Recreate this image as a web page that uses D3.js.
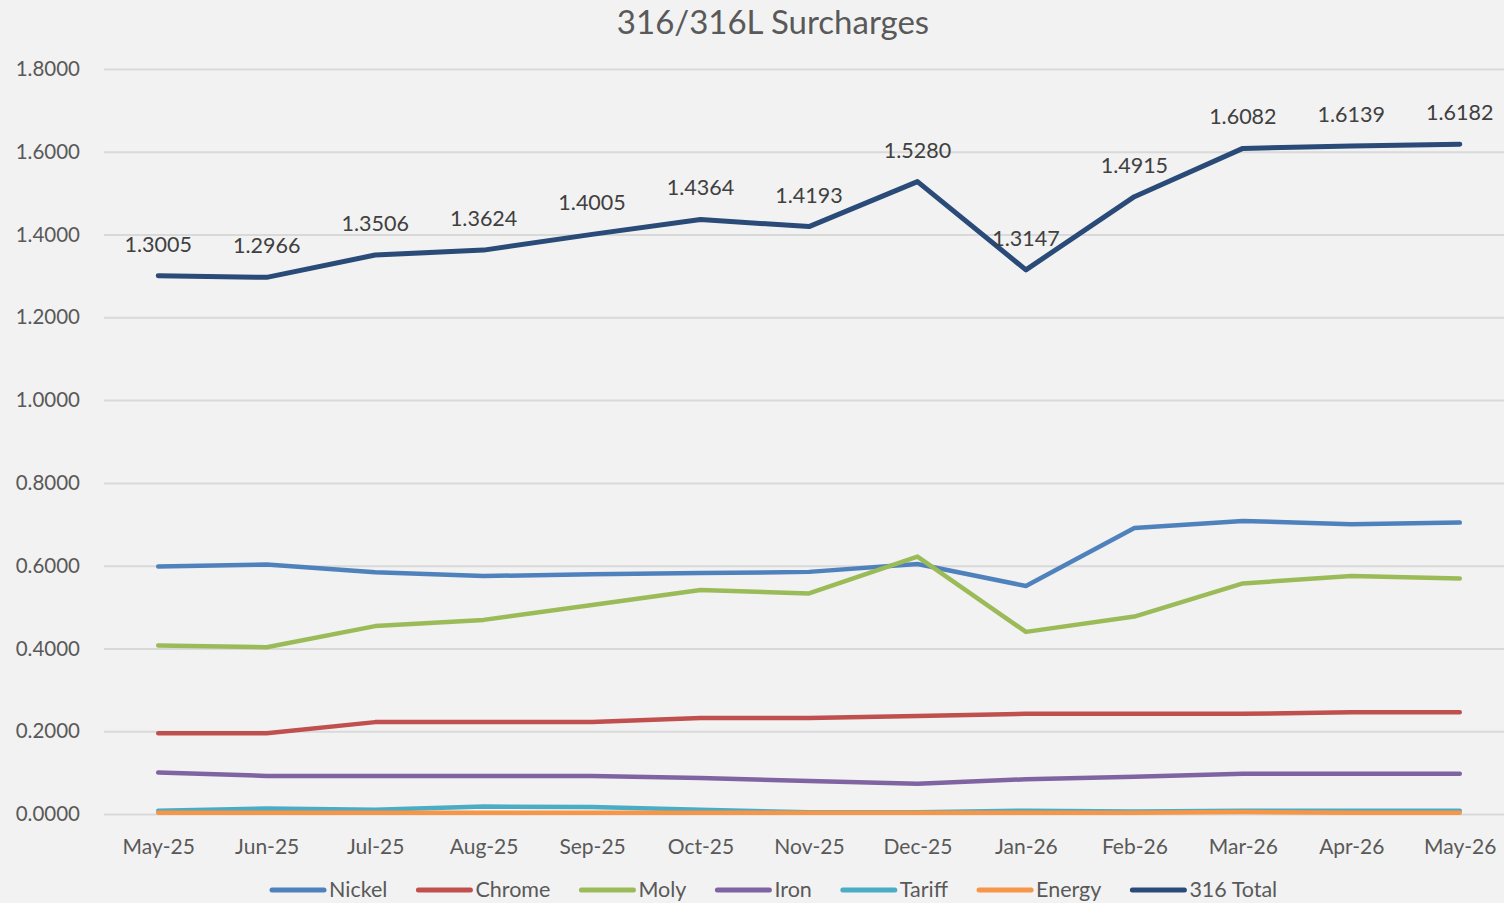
<!DOCTYPE html>
<html>
<head>
<meta charset="utf-8">
<script src="https://cdn.jsdelivr.net/npm/d3@7"></script>
<style>
body { margin: 0; background: #f2f2f2; }
text { font-family: Lato, "Open Sans", sans-serif; }
</style>
</head>
<body>
<div id="chart"></div>
<script>
var months = ["May-25", "Jun-25", "Jul-25", "Aug-25", "Sep-25", "Oct-25", "Nov-25",
              "Dec-25", "Jan-26", "Feb-26", "Mar-26", "Apr-26", "May-26"];

var nickel = [0.598, 0.603, 0.584, 0.575, 0.579, 0.582, 0.585, 0.604, 0.551, 0.691, 0.708, 0.700, 0.704];
var chrome = [0.195, 0.195, 0.222, 0.222, 0.222, 0.232, 0.232, 0.237, 0.242, 0.242, 0.242, 0.246, 0.246];
var moly   = [0.407, 0.403, 0.454, 0.469, 0.505, 0.541, 0.533, 0.622, 0.440, 0.477, 0.557, 0.575, 0.569];
var iron   = [0.100, 0.092, 0.092, 0.092, 0.092, 0.087, 0.080, 0.073, 0.084, 0.090, 0.097, 0.097, 0.097];
var tariff = [0.008, 0.013, 0.010, 0.018, 0.017, 0.010, 0.004, 0.004, 0.008, 0.006, 0.008, 0.008, 0.008];
var energy = [0.003, 0.003, 0.003, 0.003, 0.003, 0.003, 0.003, 0.003, 0.003, 0.003, 0.005, 0.003, 0.003];
var total  = [1.3005, 1.2966, 1.3506, 1.3624, 1.4005, 1.4364, 1.4193, 1.5280, 1.3147, 1.4915, 1.6082, 1.6139, 1.6182];

var yTicks = [0, 0.2, 0.4, 0.6, 0.8, 1.0, 1.2, 1.4, 1.6, 1.8];

var seriesNames = ["Nickel", "Chrome", "Moly", "Iron", "Tariff", "Energy", "316 Total"];
var seriesValues = [nickel, chrome, moly, iron, tariff, energy, total];
var seriesColors = ["#4f81bd", "#c0504d", "#9bbb59", "#8064a2", "#4bacc6", "#f79646", "#2a4a77"];

var svgWidth = 1504;
var svgHeight = 903;

var svg = d3.select("#chart")
  .append("svg")
  .attr("width", svgWidth)
  .attr("height", svgHeight)
  .style("display", "block");

svg.append("rect")
  .attr("width", svgWidth)
  .attr("height", svgHeight)
  .attr("fill", "#f2f2f2");

// scales
var x = d3.scalePoint()
  .domain(months)
  .range([104, 1514])
  .padding(0.5);

var y = d3.scaleLinear()
  .domain([0, 1.8])
  .range([814, 69]);

// title
svg.append("text")
  .attr("x", 773)
  .attr("y", 34)
  .attr("text-anchor", "middle")
  .attr("font-size", 33)
  .attr("fill", "#595959")
  .text("316/316L Surcharges");

// gridlines + y labels
var yAxis = svg.append("g")
  .attr("transform", "translate(104,0)")
  .call(d3.axisLeft(y).tickValues(yTicks).tickSize(-1410).tickPadding(24)
        .tickFormat(d3.format(".4f")));
yAxis.select(".domain").remove();
yAxis.selectAll(".tick line").attr("stroke", "#d9d9d9").attr("stroke-width", 2);
yAxis.selectAll(".tick text")
  .attr("font-size", 20.5)
  .attr("fill", "#595959")
  .attr("font-family", "Lato, 'Open Sans', sans-serif");

// x labels
var xAxis = svg.append("g")
  .attr("transform", "translate(0,814)")
  .call(d3.axisBottom(x).tickSize(0).tickPadding(25));
xAxis.select(".domain").remove();
xAxis.selectAll(".tick text")
  .attr("font-size", 21)
  .attr("fill", "#595959")
  .attr("font-family", "Lato, 'Open Sans', sans-serif");

// lines
var line = d3.line()
  .x(function(d, i) { return x(months[i]); })
  .y(function(d) { return y(d); });

seriesValues.forEach(function(vals, k) {
  svg.append("path")
    .datum(vals)
    .attr("d", line)
    .attr("fill", "none")
    .attr("stroke", seriesColors[k])
    .attr("stroke-width", k == 6 ? 5 : 4.5)
    .attr("stroke-linecap", "round")
    .attr("stroke-linejoin", "round");
});

// data labels for total
svg.selectAll(".lbl")
  .data(total)
  .enter()
  .append("text")
  .attr("class", "lbl")
  .attr("x", function(d, i) { return x(months[i]); })
  .attr("y", function(d) { return y(d) - 24; })
  .attr("text-anchor", "middle")
  .attr("font-size", 21.5)
  .attr("fill", "#404040")
  .text(function(d) { return d3.format(".4f")(d); });

// legend
var legend = svg.append("g");
var lx = 270;
seriesNames.forEach(function(name, k) {
  legend.append("line")
    .attr("x1", lx + 2).attr("x2", lx + 54)
    .attr("y1", 890).attr("y2", 890)
    .attr("stroke", seriesColors[k])
    .attr("stroke-width", 5)
    .attr("stroke-linecap", "round");
  var t = legend.append("text")
    .attr("x", lx + 59)
    .attr("y", 897)
    .attr("font-size", 21.5)
    .attr("fill", "#595959")
    .text(name);
  lx = lx + 59 + t.node().getComputedTextLength() + 29;
});
</script>
</body>
</html>
